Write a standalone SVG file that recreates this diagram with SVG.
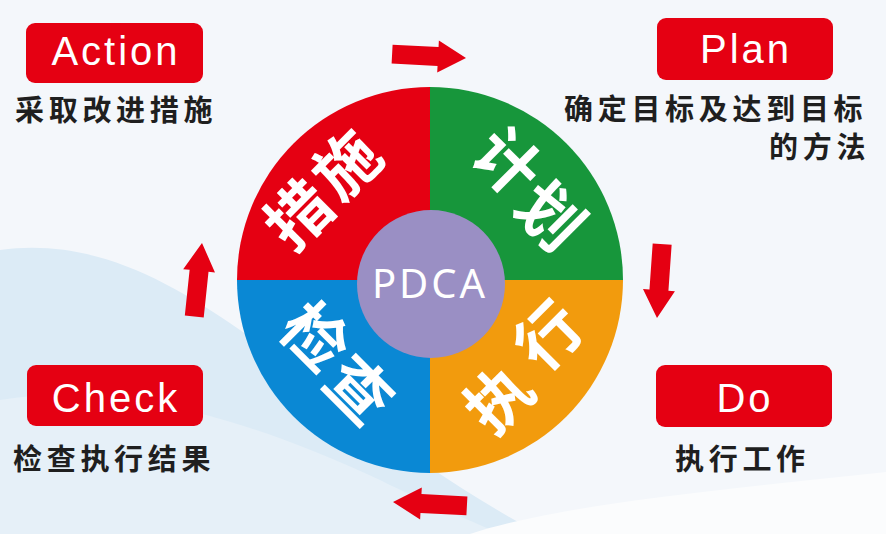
<svg xmlns="http://www.w3.org/2000/svg" width="886" height="534" viewBox="0 0 886 534">
<defs>
<style>
.box{fill:#e50012}
.boxt{font-family:"Liberation Sans","Noto Sans",sans-serif;font-size:40px;fill:#fff;text-anchor:middle;letter-spacing:3px}
.cap{font-family:"Noto Sans CJK SC",sans-serif;font-size:29px;font-weight:700;fill:#1f1f1f;letter-spacing:4.7px}
.qt{font-family:"Noto Sans CJK SC",sans-serif;font-size:64px;font-weight:700;fill:#fff;text-anchor:middle}
.arr{fill:#e50012}
</style>
<path id="arrow" d="M0,0 L-28,-16 L-28,-9.5 L-74,-9.5 L-74,9.5 L-28,9.5 L-28,16 Z"/>
</defs>
<rect width="886" height="534" fill="#f4f7fb"/>
<path d="M0,250 C90,238 165,278 240,330 C330,392 420,470 540,534 L0,534 Z" fill="#dcebf6"/>
<path d="M0,400 C120,380 250,420 380,480 C430,505 470,520 500,534 L0,534 Z" fill="#e6f0f8"/>
<path d="M470,534 C560,505 700,492 886,472 L886,534 Z" fill="#fbfcfd"/>

<g id="connectors">
<use href="#arrow" class="arr" transform="translate(466,58) rotate(3)"/>
<use href="#arrow" class="arr" transform="translate(657,318) rotate(94)"/>
<use href="#arrow" class="arr" transform="translate(393,502) rotate(183)"/>
<use href="#arrow" class="arr" transform="translate(202,243) rotate(276)"/>
</g>

<g id="wheel">
<g id="quad-act">
<path d="M430,280 L237,280 A193,193 0 0 1 430,87 Z" fill="#e50012"/>
<text class="qt" transform="translate(299,215) rotate(-45)" dy="0.36em">措</text>
<text class="qt" transform="translate(347,165) rotate(-45)" dy="0.36em">施</text>
</g>
<g id="quad-plan">
<path d="M430,280 L430,87 A193,193 0 0 1 623,280 Z" fill="#17963b"/>
<text class="qt" transform="translate(507,162) rotate(45)" dy="0.36em">计</text>
<text class="qt" transform="translate(550,216) rotate(45)" dy="0.36em">划</text>
</g>
<g id="quad-do">
<path d="M430,280 L623,280 A193,193 0 0 1 430,473 Z" fill="#f29b0d"/>
<text class="qt" transform="translate(499,399) rotate(-45)" dy="0.36em">执</text>
<text class="qt" transform="translate(549,336) rotate(-45)" dy="0.36em">行</text>
</g>
<g id="quad-check">
<path d="M430,280 L430,473 A193,193 0 0 1 237,280 Z" fill="#0a88d4"/>
<text class="qt" transform="translate(315,337) rotate(45)" dy="0.36em">检</text>
<text class="qt" transform="translate(359,390) rotate(45)" dy="0.36em">查</text>
</g>
<g id="center">
<circle cx="431" cy="284" r="74" fill="#9a8fc4"/>
<text x="430" y="298" font-family="'Noto Sans','Liberation Sans',sans-serif" font-size="40" fill="#fff" text-anchor="middle" letter-spacing="3">PDCA</text>
</g>
</g>

<g id="action">
<rect class="box" x="26" y="23" width="177" height="60" rx="9"/>
<text class="boxt" x="116" y="65">Action</text>
<text class="cap" x="15" y="121">采取改进措施</text>
</g>
<g id="plan">
<rect class="box" x="657" y="18" width="176" height="62" rx="9"/>
<text class="boxt" x="746" y="63">Plan</text>
<text class="cap" x="564" y="120">确定目标及达到目标</text>
<text class="cap" x="769" y="158">的方法</text>
</g>
<g id="check">
<rect class="box" x="27" y="365" width="176" height="61" rx="9"/>
<text class="boxt" x="116" y="412">Check</text>
<text class="cap" x="13" y="470">检查执行结果</text>
</g>
<g id="do">
<rect class="box" x="656" y="365" width="176" height="62" rx="9"/>
<text class="boxt" x="745" y="412">Do</text>
<text class="cap" x="675" y="470">执行工作</text>
</g>
</svg>
